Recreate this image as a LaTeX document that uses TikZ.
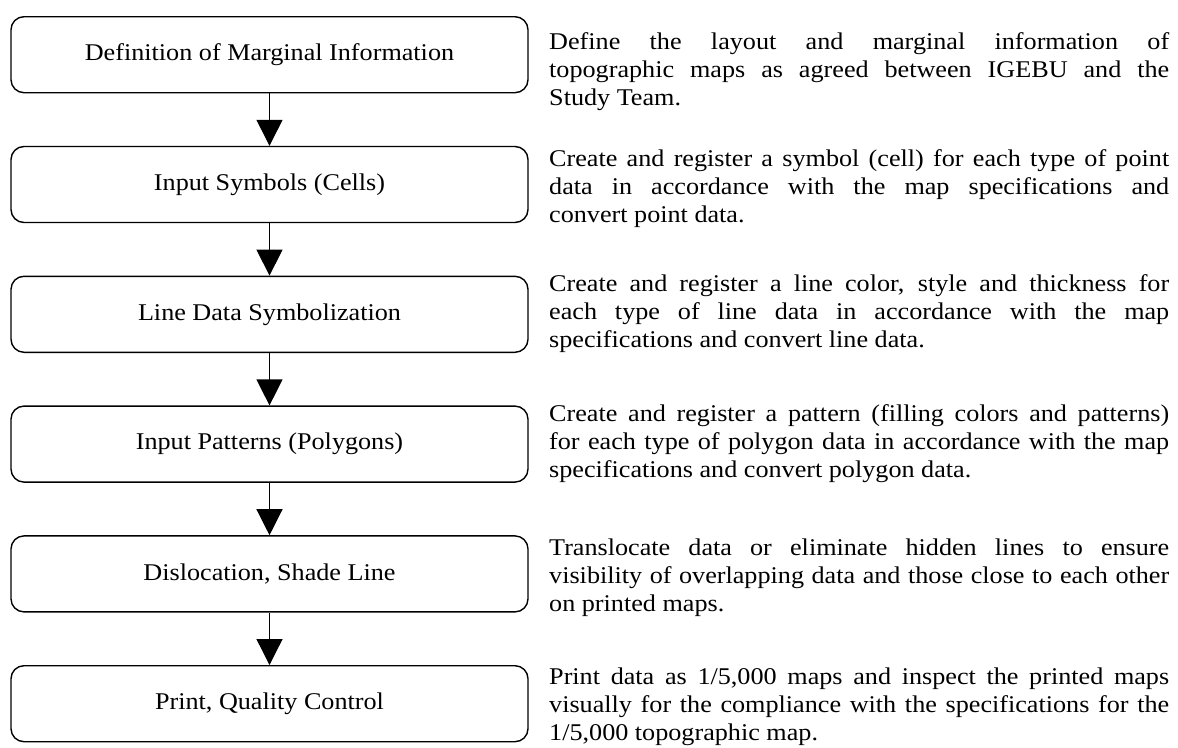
\documentclass[tikz,border=0pt]{standalone}
\usepackage{fontspec}
\setmainfont{Liberation Serif}[FakeStretch=1.09]
\usetikzlibrary{arrows.meta}
\tolerance=10000
\hyphenpenalty=10000
\begin{document}
\begin{tikzpicture}[x=1pt,y=-1pt,
  stepbox/.style={draw, line width=1.4pt, rounded corners=13pt,
    minimum width=517pt, minimum height=76pt, inner sep=0pt,
    font=\fontsize{24}{28}\selectfont},
  desc/.style={anchor=base west, inner sep=0pt, text width=620pt, align=justify,
    font=\fontsize{24}{28}\selectfont},
  flow/.style={line width=1.3pt, -{Triangle[length=26pt,width=26pt]}}]
\useasboundingbox (0,0) rectangle (1178,747);

\node[stepbox] (b1) at (269.5,54.7)  {Definition of Marginal Information};
\node[stepbox] (b2) at (269.5,184.5) {Input Symbols (Cells)};
\node[stepbox] (b3) at (269.5,314.3) {Line Data Symbolization};
\node[stepbox] (b4) at (269.5,444.1) {Input Patterns (Polygons)};
\node[stepbox] (b5) at (269.5,573.9) {Dislocation, Shade Line};
\node[stepbox] (b6) at (269.5,703.7) {Print, Quality Control};

\draw[flow] (b1) -- (b2);
\draw[flow] (b2) -- (b3);
\draw[flow] (b3) -- (b4);
\draw[flow] (b4) -- (b5);
\draw[flow] (b5) -- (b6);

\node[desc] (d1) at (549,49.3) {Define the layout and marginal information of\linebreak topographic maps as agreed between IGEBU and the\linebreak Study Team.};
\node[desc] (d2) at (549,166) {Create and register a symbol (cell) for each type of point\linebreak data in accordance with the map specifications and\linebreak convert point data.};
\node[desc] (d3) at (549,291.7) {Create and register a line color, style and thickness for\linebreak each type of line data in accordance with the map\linebreak specifications and convert line data.};
\node[desc] (d4) at (549,421.7) {Create and register a pattern (filling colors and patterns)\linebreak for each type of polygon data in accordance with the map\linebreak specifications and convert polygon data.};
\node[desc] (d5) at (549,555) {Translocate data or eliminate hidden lines to ensure\linebreak visibility of overlapping data and those close to each other\linebreak on printed maps.};
\node[desc] (d6) at (549,684) {Print data as 1/5,000 maps and inspect the printed maps\linebreak visually for the compliance with the specifications for the\linebreak 1/5,000 topographic map.};
\end{tikzpicture}
\end{document}
